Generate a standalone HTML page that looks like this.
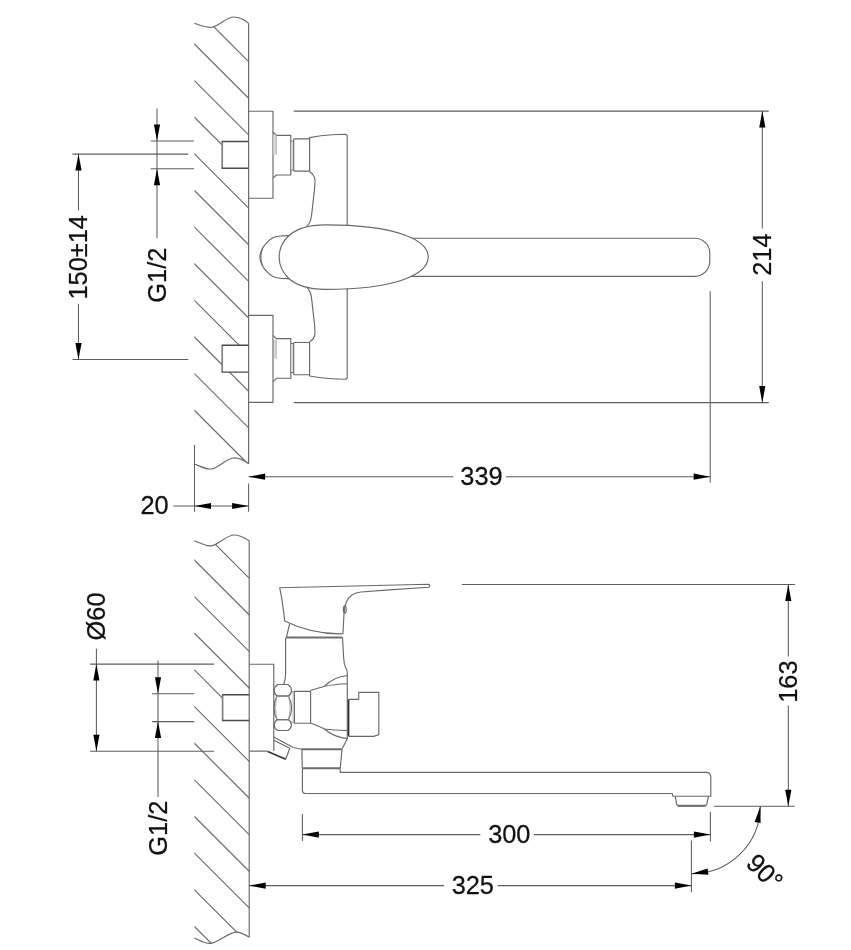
<!DOCTYPE html>
<html lang="en">
<head>
<meta charset="utf-8">
<title>Bath mixer – dimensional drawing</title>
<style>
html,body{margin:0;padding:0;background:#fff;}
body{width:851px;height:950px;overflow:hidden;}
svg{display:block;filter:grayscale(1);}
.l,.lw{fill:none;stroke:#686868;stroke-width:1.15;stroke-linecap:butt;stroke-linejoin:round;}
.lw{fill:#fff;}
.h{stroke:#686868;stroke-width:1.15;fill:none;}
.g{fill:none;stroke:#999;stroke-width:0.8;}
.k{fill:none;stroke:#333;stroke-width:1.6;}
.kg{fill:none;stroke:#6e6e6e;stroke-width:2;}
.s{fill:none;stroke:#4a4a4a;stroke-width:1.4;}
.sl{fill:none;stroke:#808080;stroke-width:1.7;}
.sh{fill:#ddd;stroke:none;}
.d,.da{fill:none;stroke:#5c5c5c;stroke-width:1.05;}
.a{fill:#000;stroke:none;}
.t{font-family:"Liberation Sans",sans-serif;fill:#111;stroke:#111;stroke-width:0.25;text-anchor:middle;dominant-baseline:central;}
</style>
</head>
<body>
<svg width="851" height="950" viewBox="0 0 851 950">
<rect x="0" y="0" width="851" height="950" fill="#fff"/>
<clipPath id="c1"><path d="M194.4,23.2 C200,25.5 206,28 212,27.2 C220,26 226,17 234,17 C240,17 245,20.3 248.6,23.2 L248.6,463.8 C245,461 240,457.8 234.5,457.8 C226,458 219,468.5 211,469 C205,469.3 200,466 194.4,464 Z"/></clipPath>
<g clip-path="url(#c1)">
<line class="h" x1="192.4" y1="5.37" x2="250.6" y2="63.57"/>
<line class="h" x1="192.4" y1="42.0" x2="250.6" y2="100.2"/>
<line class="h" x1="192.4" y1="78.63" x2="250.6" y2="136.83"/>
<line class="h" x1="192.4" y1="115.26" x2="222.1" y2="144.96"/>
<line class="h" x1="192.4" y1="151.89" x2="250.6" y2="210.09"/>
<line class="h" x1="192.4" y1="188.52" x2="250.6" y2="246.72"/>
<line class="h" x1="192.4" y1="225.15" x2="250.6" y2="283.35"/>
<line class="h" x1="192.4" y1="261.78" x2="250.6" y2="319.98"/>
<line class="h" x1="192.4" y1="298.41" x2="239.29" y2="345.3"/>
<line class="h" x1="192.4" y1="335.04" x2="222.1" y2="364.74"/>
<line class="h" x1="229.46" y1="372.1" x2="250.6" y2="393.24"/>
<line class="h" x1="192.4" y1="371.67" x2="250.6" y2="429.87"/>
<line class="h" x1="192.4" y1="408.3" x2="250.6" y2="466.5"/>
</g>
<path class="l" d="M194.4,23.2 C200,25.5 206,28 212,27.2 C220,26 226,17 234,17 C240,17 245,20.3 248.6,23.2"/>
<path class="l" d="M194.4,464 C200,466 205,469.3 211,469 C219,468.5 226,458 234.5,457.8 C240,457.8 245,461 248.6,463.8"/>
<line class="l" x1="248.6" y1="23.2" x2="248.6" y2="463.8"/>
<g>
<path class="l" d="M248.6,111.2 H273 V198.2 H248.6"/>
<path class="sl" d="M222.2,141.5 V168.3"/>
<path class="s" d="M248.6,141.5 H221.6 M221.6,168.3 H248.6"/>
<path class="l" d="M273,131.8 L276.4,135.3 H290.8 V175 H276.4 L273,178.2"/>
<path class="l" d="M290.8,141.2 H293.7 M290.8,169.9 H293.7"/>
<rect class="sh" x="291.3" y="141.5" width="2.2" height="28.2"/>
<path class="l" d="M293.7,138.8 H309.6 M293.7,171.1 H309.6 M293.7,138.8 V171.1"/>
<path class="l" d="M309.6,171.7 V137.6 C318,136 325,135.2 332,134.8 L345.2,134.3 Q347.2,134.3 347.2,136.3 V225.6"/>
<path class="l" d="M309.60,171.70 C310.20,172.25 312.32,173.70 313.20,175.00 C314.08,176.30 314.67,177.33 314.90,179.50 C315.13,181.67 314.80,185.18 314.60,188.00 C314.40,190.82 314.03,193.40 313.70,196.40 C313.37,199.40 312.95,202.90 312.60,206.00 C312.25,209.10 311.95,212.60 311.60,215.00 C311.25,217.40 310.98,218.90 310.50,220.40 C310.02,221.90 309.40,222.92 308.70,224.00 C308.00,225.08 306.70,226.42 306.30,226.90"/>
</g>
<rect class="sh" x="273.5" y="135.5" width="2.6" height="19"/>
<path class="g" d="M276.2,135.3 V155"/>
<rect class="sh" x="273.5" y="339.5" width="2.6" height="19"/>
<path class="g" d="M276.2,339.3 V359"/>
<g transform="matrix(1 0 0 -1 0 513.6)">
<path class="l" d="M248.6,111.2 H273 V198.2 H248.6"/>
<path class="sl" d="M222.2,141.5 V168.3"/>
<path class="s" d="M248.6,141.5 H221.6 M221.6,168.3 H248.6"/>
<path class="l" d="M273,131.8 L276.4,135.3 H290.8 V175 H276.4 L273,178.2"/>
<path class="l" d="M290.8,141.2 H293.7 M290.8,169.9 H293.7"/>
<rect class="sh" x="291.3" y="141.5" width="2.2" height="28.2"/>
<path class="l" d="M293.7,138.8 H309.6 M293.7,171.1 H309.6 M293.7,138.8 V171.1"/>
<path class="l" d="M309.6,171.7 V137.6 C318,136 325,135.2 332,134.8 L345.2,134.3 Q347.2,134.3 347.2,136.3 V225.6"/>
<path class="l" d="M309.60,171.70 C310.20,172.25 312.32,173.70 313.20,175.00 C314.08,176.30 314.67,177.33 314.90,179.50 C315.13,181.67 314.80,185.18 314.60,188.00 C314.40,190.82 314.03,193.40 313.70,196.40 C313.37,199.40 312.95,202.90 312.60,206.00 C312.25,209.10 311.95,212.60 311.60,215.00 C311.25,217.40 310.98,218.90 310.50,220.40 C310.02,221.90 309.40,222.92 308.70,224.00 C308.00,225.08 306.70,226.42 306.30,226.90"/>
</g>
<path class="l" d="M410,238.2 H694.8 A15,15 0 0 1 709.8,253.2 V261.3 A15,15 0 0 1 694.8,276.3 H410"/>
<path class="lw" d="M290.00,235.50 C288.35,235.58 282.95,235.62 280.10,236.00 C277.25,236.38 275.15,236.67 272.90,237.80 C270.65,238.93 268.38,240.93 266.60,242.80 C264.82,244.67 263.32,246.62 262.20,249.00 C261.08,251.38 259.90,254.40 259.90,257.10 C259.90,259.80 261.08,262.82 262.20,265.20 C263.32,267.58 264.82,269.53 266.60,271.40 C268.38,273.27 270.65,275.27 272.90,276.40 C275.15,277.53 277.25,277.82 280.10,278.20 C282.95,278.58 288.35,278.62 290.00,278.70"/>
<path class="l" d="M262.4,248.6 C261.2,251.5 260.8,254.5 260.8,257.1 C260.8,259.7 261.2,262.7 262.4,265.6"/>
<path class="lw" d="M279.2,257.1 C279.2,245.05 287.3,224.9 325.3,224.9 C398,224.9 428.2,240.5 428.2,257.1 C428.2,273.7 398,289.3 325.3,289.3 C287.3,289.3 279.2,269.15 279.2,257.1 Z"/>
<line class="d" x1="293.7" y1="111.1" x2="768.8" y2="111.1"/>
<line class="d" x1="293.7" y1="402.6" x2="768.8" y2="402.6"/>
<line class="d" x1="762.3" y1="111.1" x2="762.3" y2="228.5"/>
<line class="d" x1="762.3" y1="281.2" x2="762.3" y2="402.6"/>
<polygon class="a" points="762.3,111.1 759.2,127.6 765.4,127.6"/>
<polygon class="a" points="762.3,402.6 759.2,386.1 765.4,386.1"/>
<text class="t" x="0" y="0" font-size="26.4" transform="translate(762.3 254.6) rotate(-90) scale(0.962 1)">214</text>
<line class="d" x1="710.2" y1="291.3" x2="710.2" y2="482.5"/>
<line class="d" x1="248.6" y1="483.6" x2="248.6" y2="511.8"/>
<line class="d" x1="248.6" y1="476.7" x2="453.2" y2="476.7"/>
<line class="d" x1="505.9" y1="476.7" x2="710.2" y2="476.7"/>
<polygon class="a" points="248.6,476.7 265.1,473.6 265.1,479.8"/>
<polygon class="a" points="710.2,476.7 693.7,473.6 693.7,479.8"/>
<text class="t" x="0" y="0" font-size="26.4" transform="translate(481.5 475.6) scale(0.962 1)">339</text>
<line class="d" x1="194.5" y1="445" x2="194.5" y2="511.8"/>
<line class="d" x1="173.2" y1="506" x2="248.6" y2="506"/>
<polygon class="a" points="194.5,506.0 211.0,502.9 211.0,509.1"/>
<polygon class="a" points="248.6,506.0 232.1,502.9 232.1,509.1"/>
<text class="t" x="0" y="0" font-size="26.4" transform="translate(154.5 505) scale(0.962 1)">20</text>
<line class="d" x1="72.5" y1="154.1" x2="188.2" y2="154.1"/>
<line class="d" x1="72.5" y1="359.5" x2="188.2" y2="359.5"/>
<line class="d" x1="78.5" y1="154.1" x2="78.5" y2="210.4"/>
<line class="d" x1="78.5" y1="304" x2="78.5" y2="359.5"/>
<polygon class="a" points="78.5,154.1 75.4,170.6 81.6,170.6"/>
<polygon class="a" points="78.5,359.5 75.4,343.0 81.6,343.0"/>
<text class="t" x="0" y="0" font-size="26.4" transform="translate(78.3 257.3) rotate(-90) scale(0.962 1)">150±14</text>
<line class="d" x1="150.7" y1="140.9" x2="194" y2="140.9"/>
<line class="d" x1="150.7" y1="168.7" x2="194" y2="168.7"/>
<line class="d" x1="157" y1="108.5" x2="157" y2="238.2"/>
<polygon class="a" points="157.0,140.9 153.9,124.4 160.1,124.4"/>
<polygon class="a" points="157.0,168.7 153.9,185.2 160.1,185.2"/>
<text class="t" x="0" y="0" font-size="26.4" transform="translate(157 275.2) rotate(-90) scale(0.962 1)">G1/2</text>
<clipPath id="c2"><path d="M194.4,540.7 C200,543 206,546.5 211,545.9 C219,545 226,535 234.3,535 C240,535 245,538 249.2,540.7 L249.2,937.3 C245.5,935 241,932.1 236.3,932.1 C228,932.2 219,942.5 210.4,943.4 C205,943.8 200,940.5 194.4,938 Z"/></clipPath>
<g clip-path="url(#c2)">
<line class="h" x1="192.4" y1="521.35" x2="251.2" y2="580.15"/>
<line class="h" x1="192.4" y1="558.0" x2="251.2" y2="616.8"/>
<line class="h" x1="192.4" y1="594.65" x2="251.2" y2="653.45"/>
<line class="h" x1="192.4" y1="631.3" x2="251.2" y2="690.1"/>
<line class="h" x1="192.4" y1="667.95" x2="222.5" y2="698.05"/>
<line class="h" x1="192.4" y1="704.6" x2="251.2" y2="763.4"/>
<line class="h" x1="192.4" y1="741.25" x2="251.2" y2="800.05"/>
<line class="h" x1="192.4" y1="777.9" x2="251.2" y2="836.7"/>
<line class="h" x1="192.4" y1="814.55" x2="251.2" y2="873.35"/>
<line class="h" x1="192.4" y1="851.2" x2="251.2" y2="910.0"/>
<line class="h" x1="192.4" y1="887.85" x2="251.2" y2="946.65"/>
<line class="h" x1="192.4" y1="924.5" x2="251.2" y2="983.3"/>
</g>
<path class="l" d="M194.4,540.7 C200,543 206,546.5 211,545.9 C219,545 226,535 234.3,535 C240,535 245,538 249.2,540.7"/>
<path class="l" d="M194.4,938 C200,940.5 205,943.8 210.4,943.4 C219,942.5 228,932.2 236.3,932.1 C241,932.1 245.5,935 249.2,937.3"/>
<line class="l" x1="249.2" y1="540.7" x2="249.2" y2="937.3"/>
<path class="l" d="M249.2,664.2 H273.8 V751 M249.2,751.1 H267.8"/>
<path class="sl" d="M222.6,694.8 V720.5"/>
<path class="s" d="M249.2,694.8 H222 M222,720.5 H249.2"/>
<path class="lw" d="M279.7,587.8 L428.8,584.3 Q430.6,585.7 428.8,587.2 L389.3,589.9 L361,592 C353.5,592.8 348.6,596.5 346.3,602 C344.8,606 344.2,610 344,614 L342.9,633.8 C326,634.2 305,631 284.7,621 C283.8,612 282.4,600 279.7,587.8 Z"/>
<ellipse class="l" cx="344.8" cy="609.5" rx="1.4" ry="3.6"/>
<path class="l" d="M289.6,624 L286.4,637.4"/>
<path class="kg" d="M286.3,637.4 H342.4"/>
<path class="l" d="M285.6,637.4 V674 C285.6,679 284.8,681.5 283.8,684.5"/>
<path class="l" d="M342.5,637.4 L343.2,650 C343.5,656 343.8,660 344.3,663.5 C345,667.5 347.3,669 347.3,673 V738.8 L342.3,748.5"/>
<path class="l" d="M277.5,684.5 H288 Q291.4,687 291.4,690.5 Q291.4,694 288.5,696 H277 Q274.2,694 274.2,690.5 Q274.2,687 277.5,684.5 Z"/>
<path class="l" d="M277,696 H288.5 Q291.6,702 291.6,707.8 Q291.6,714 288.5,719.7 H277 Q274,714 274,707.8 Q274,702 277,696 Z"/>
<path class="g" d="M277,696 Q275.6,702 275.6,707.8 Q275.6,714 277,719.7 M288.5,696 Q290,702 290,707.8 Q290,714 288.5,719.7"/>
<path class="l" d="M277,719.7 H288.5 Q291.4,721.7 291.4,725 Q291.4,728.3 288,730.5 H277.5 Q274.2,728.3 274.2,725 Q274.2,721.7 277,719.7 Z"/>
<path class="l" d="M291.5,692 H294.4 M291.5,722 H294.4"/>
<rect class="sh" x="292" y="692.3" width="2.2" height="29.5"/>
<path class="l" d="M294.4,691.3 H310.6 V723.2 H294.4 Z"/>
<path class="l" d="M310.6,690.4 C316,689 320,687.5 324.5,686.2 C332,684.6 340,684 347.3,683.7"/>
<path class="l" d="M324.5,686.2 C330,680.5 338,676.5 347.3,675.5"/>
<path class="l" d="M310.6,723.3 C316,725 320,727 324.5,729 C332,730 340,730.4 347.3,730.6"/>
<path class="l" d="M324.5,729 C330,734 338,737.5 347.3,738.6"/>
<path class="l" d="M348.8,699.3 H358.7 V692.3 H378.8 V734.7 L373.5,736.4 H348.8"/>
<path class="k" d="M348.6,699.3 V736.4"/>
<path class="l" d="M273.8,737.1 L293.2,747.5 L301.5,749.2"/>
<path class="l" d="M273.8,740.2 L289.8,748.3 L285.7,759.2"/>
<path class="k" d="M267.8,751.4 L285.7,759.2"/>
<path class="kg" d="M301.5,749.2 H342.2"/>
<path class="l" d="M301.9,749.2 L302.3,768.5 M342,749.2 L340.2,768.5"/>
<path class="kg" d="M302.3,768.3 H340.2"/>
<path class="l" d="M302.4,768.5 V790.5 Q302.4,793.5 305.4,793.5 H672.3 L672.8,796.2 H710.8 V777.4 Q710.8,772.4 705.8,772.4 H340.2 V768.5"/>
<path class="l" d="M675.2,796.2 L676.6,803.6 Q676.9,805.8 679,805.8 H704.5 Q706.5,805.8 706.9,803.6 L708.5,796.2"/>
<path class="kg" d="M678,805.8 H705.4"/>
<line class="d" x1="90.1" y1="664.1" x2="214" y2="664.1"/>
<line class="d" x1="90.1" y1="751.3" x2="214" y2="751.3"/>
<line class="d" x1="96.4" y1="648.7" x2="96.4" y2="751.3"/>
<polygon class="a" points="96.4,664.1 93.3,680.6 99.5,680.6"/>
<polygon class="a" points="96.4,751.3 93.3,734.8 99.5,734.8"/>
<text class="t" x="0" y="0" font-size="26.4" transform="translate(96 616.4) rotate(-90) scale(0.962 1)">Ø60</text>
<line class="d" x1="152" y1="693.7" x2="194.3" y2="693.7"/>
<line class="d" x1="152" y1="721.6" x2="194.3" y2="721.6"/>
<line class="d" x1="158" y1="660.5" x2="158" y2="797"/>
<polygon class="a" points="158.0,693.7 154.9,677.2 161.1,677.2"/>
<polygon class="a" points="158.0,721.6 154.9,738.1 161.1,738.1"/>
<text class="t" x="0" y="0" font-size="26.4" transform="translate(157.4 828.2) rotate(-90) scale(0.962 1)">G1/2</text>
<line class="d" x1="462" y1="584.4" x2="795" y2="584.4"/>
<line class="d" x1="714" y1="806.2" x2="794.6" y2="806.2"/>
<line class="d" x1="788.3" y1="584.4" x2="788.3" y2="656.5"/>
<line class="d" x1="788.3" y1="705.5" x2="788.3" y2="806.2"/>
<polygon class="a" points="788.3,584.4 785.2,600.9 791.4,600.9"/>
<polygon class="a" points="788.3,806.2 785.2,789.7 791.4,789.7"/>
<text class="t" x="0" y="0" font-size="26.4" transform="translate(788.3 681.6) rotate(-90) scale(0.962 1)">163</text>
<line class="d" x1="302.4" y1="813.9" x2="302.4" y2="841"/>
<line class="d" x1="710.4" y1="811.9" x2="710.4" y2="841.5"/>
<line class="d" x1="302.4" y1="834.6" x2="480.3" y2="834.6"/>
<line class="d" x1="533.8" y1="834.6" x2="710.4" y2="834.6"/>
<polygon class="a" points="302.4,834.6 318.9,831.5 318.9,837.7"/>
<polygon class="a" points="710.4,834.6 693.9,831.5 693.9,837.7"/>
<text class="t" x="0" y="0" font-size="26.4" transform="translate(509.3 834.3) scale(0.962 1)">300</text>
<line class="d" x1="691.4" y1="840.5" x2="691.4" y2="892.3"/>
<line class="d" x1="249.2" y1="885.6" x2="444.1" y2="885.6"/>
<line class="d" x1="497.6" y1="885.6" x2="691.4" y2="885.6"/>
<polygon class="a" points="249.2,885.6 265.7,882.5 265.7,888.7"/>
<polygon class="a" points="691.4,885.6 674.9,882.5 674.9,888.7"/>
<text class="t" x="0" y="0" font-size="26.4" transform="translate(472.8 885) scale(0.962 1)">325</text>
<path class="da" d="M760.2,806.2 A68.2,67.5 0 0 1 691.4,873.7"/>
<polygon class="a" points="760.4,806.2 760.6,823 754.6,822"/>
<polygon class="a" points="691.4,873.7 707.6,868.6 708.4,874.8"/>
<text class="t" x="0" y="0" font-size="26.4" transform="translate(764.8 871.8) rotate(45) scale(0.962 1)">90°</text>
</svg>
</body>
</html>
